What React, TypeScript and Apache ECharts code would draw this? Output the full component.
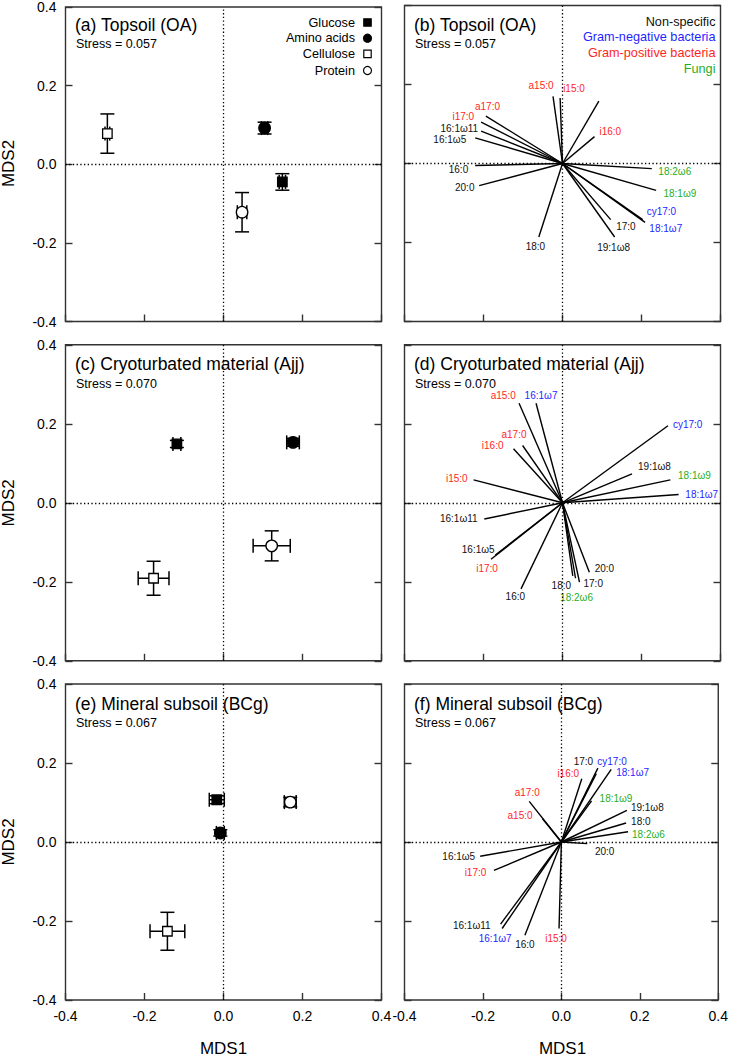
import React, { useEffect, useRef } from "react";
import * as echarts from "echarts";

const FONT = "'Liberation Sans', Arial, Helvetica, sans-serif";

// ---------- axis ticks ----------
const AXIS_TICKS = [-0.4, -0.2, 0.0, 0.2, 0.4];

// ---------- treatments (panels a, c, e) ----------
const treatments = ["Glucose", "Amino acids", "Cellulose", "Protein"];
const treatmentSymbols = ["rect", "circle", "rect", "circle"];
const treatmentFilled = [true, true, false, false];

const topsoilX = [0.149, 0.104, -0.294, 0.047];
const topsoilY = [-0.045, 0.092, 0.078, -0.122];
const topsoilXErr = [0.008, 0.008, 0.006, 0.012];
const topsoilYErr = [0.021, 0.015, 0.05, 0.05];

const cryoX = [-0.118, 0.176, -0.177, 0.122];
const cryoY = [0.149, 0.153, -0.191, -0.109];
const cryoXErr = [0.01, 0.016, 0.039, 0.047];
const cryoYErr = [0.009, 0.01, 0.043, 0.038];

const subsoilX = [-0.017, -0.008, -0.142, 0.169];
const subsoilY = [0.107, 0.023, -0.226, 0.101];
const subsoilXErr = [0.019, 0.01, 0.044, 0.015];
const subsoilYErr = [0.01, 0.008, 0.048, 0.012];

// ---------- PLFA vectors (panels b, d, f) ----------
const plfaNames = [
  "i15:0", "a15:0", "i16:0", "16:0", "16:1ω11", "16:1ω7", "16:1ω5", "i17:0", "a17:0",
  "17:0", "cy17:0", "18:0", "18:2ω6", "18:1ω9", "18:1ω7", "19:1ω8", "20:0",
];
// 0 non-specific, 1 Gram-negative, 2 Gram-positive, 3 Fungi
const plfaGroups = [2, 2, 2, 0, 0, 1, 0, 2, 2, 0, 1, 0, 3, 3, 1, 0, 0];
const groupNames = ["Non-specific", "Gram-negative bacteria", "Gram-positive bacteria", "Fungi"];
const groupColors = ["#111111", "#1f1fff", "#ff1f1f", "#1fae1f"];

const topsoilPlfaX = [-0.006, -0.024, 0.081, -0.221, -0.206, 0.092, -0.221, -0.206, -0.194, 0.122, 0.203, -0.06, 0.226, 0.237, 0.209, 0.132, -0.211];
const topsoilPlfaY = [0.166, 0.17, 0.068, -0.005, 0.082, 0.158, 0.065, 0.105, 0.12, -0.142, -0.142, -0.186, -0.013, -0.068, -0.149, -0.186, -0.056];

const cryoPlfaX = [-0.225, -0.11, -0.124, -0.105, -0.198, -0.067, -0.17, -0.181, -0.101, 0.043, 0.267, 0.026, 0.033, 0.273, 0.294, 0.176, 0.068];
const cryoPlfaY = [0.058, 0.252, 0.137, -0.218, -0.041, 0.252, -0.132, -0.143, 0.145, -0.201, 0.195, -0.185, -0.191, 0.058, 0.021, 0.073, -0.176];

const subsoilPlfaX = [-0.006, -0.048, 0.052, -0.093, -0.155, -0.151, -0.207, -0.172, -0.082, 0.093, 0.089, 0.165, 0.17, 0.077, 0.127, 0.167, 0.066];
const subsoilPlfaY = [-0.219, 0.059, 0.16, -0.236, -0.208, -0.219, -0.036, -0.072, 0.103, 0.187, 0.173, 0.048, 0.026, 0.104, 0.184, 0.08, -0.004];

// ---------- label placement (layout only): [align, dx px, dy px] or null ----------
type LP = [string, number, number] | null;
const topsoilLabelPos: LP[] = [
  ["left", 3, -9], ["center", -12, -11], ["left", 5, -5], ["right", -7, 4], ["right", -3, -3],
  null, ["right", -9, 2], ["right", -7, -6], ["center", 1.6, -10], ["left", 5.5, 6.7],
  ["left", 4, -8.3], ["center", -3.4, 9.4], ["left", 6.6, 2.7], ["left", 7.3, 3.6],
  ["left", 4.3, 6.6], ["center", -1, 11], ["right", -4.7, 2.3],
];
const cryoLabelPos: LP[] = [
  ["right", -6, -1], ["right", -3.3, -7.6], ["right", -10, -3.3], ["center", -5.7, 7.4],
  ["right", -6.7, 0], ["center", 5, -7.6], ["right", -0.7, -5.3], ["center", -4, 9.7],
  ["center", -8.6, -10.7], ["left", 4, 1], ["left", 5, -1], ["right", -1.7, 9.3],
  ["center", 1, 19], ["left", 7.7, -4.3], ["left", 6.7, 0], ["left", 6, -7.3], ["left", 5.3, -3.4],
];
const subsoilLabelPos: LP[] = [
  ["center", -3, 10], ["right", -10, -3.3], ["right", -2.7, -5], ["center", 0, 9.7],
  ["right", -10, 1.7], ["center", -7, 10], ["right", -5, 0], ["right", -7.6, 1.7],
  ["center", -2, -9.3], ["right", -4.7, -7], ["left", 1, -12.6], ["left", 5, -2],
  ["left", 4, 2.7], ["left", 8, -2.7], ["left", 5, 3], ["left", 4, -2.7], ["left", 7.7, 8.4],
];

// ---------- panels ----------
const panels: any[] = [
  { kind: "trt", row: 0, col: 0, title: "(a) Topsoil (OA)", stress: "Stress = 0.057", x: topsoilX, y: topsoilY, ex: topsoilXErr, ey: topsoilYErr, legend: true },
  { kind: "plfa", row: 0, col: 1, title: "(b) Topsoil (OA)", stress: "Stress = 0.057", x: topsoilPlfaX, y: topsoilPlfaY, lp: topsoilLabelPos, legend: true },
  { kind: "trt", row: 1, col: 0, title: "(c) Cryoturbated material (Ajj)", stress: "Stress = 0.070", x: cryoX, y: cryoY, ex: cryoXErr, ey: cryoYErr },
  { kind: "plfa", row: 1, col: 1, title: "(d) Cryoturbated material (Ajj)", stress: "Stress = 0.070", x: cryoPlfaX, y: cryoPlfaY, lp: cryoLabelPos },
  { kind: "trt", row: 2, col: 0, title: "(e) Mineral subsoil (BCg)", stress: "Stress = 0.067", x: subsoilX, y: subsoilY, ex: subsoilXErr, ey: subsoilYErr },
  { kind: "plfa", row: 2, col: 1, title: "(f) Mineral subsoil (BCg)", stress: "Stress = 0.067", x: subsoilPlfaX, y: subsoilPlfaY, lp: subsoilLabelPos },
];

const GRID_LEFTS = [65.5, 404.5];
const GRID_TOPS = [5.5, 344.8, 684];
const SIZE = 316;
const FRAME = "#333";

function fmt(v: number) {
  if (Math.abs(v) < 1e-9) return "0.0";
  return v.toFixed(1);
}

function buildOption() {
  const grids: any[] = [];
  const xAxes: any[] = [];
  const yAxes: any[] = [];
  const series: any[] = [];
  const graphics: any[] = [];
  const min = AXIS_TICKS[0];
  const max = AXIS_TICKS[AXIS_TICKS.length - 1];
  const interval = AXIS_TICKS[1] - AXIS_TICKS[0];

  const tick = { show: true, inside: true, length: 7, lineStyle: { color: FRAME, width: 1.4 } };
  const axisLine = { show: false, onZero: false };

  panels.forEach((p, i) => {
    const left = GRID_LEFTS[p.col];
    const top = GRID_TOPS[p.row];
    grids.push({
      left, top, width: SIZE, height: SIZE, show: true,
      borderColor: FRAME, borderWidth: 1.4, backgroundColor: "transparent",
    });
    const showX = p.row === 2;
    const showY = p.col === 0;
    xAxes.push({
      type: "value", gridIndex: i, min, max, interval, position: "bottom",
      axisLine, axisTick: tick, splitLine: { show: false },
      axisLabel: { show: showX, formatter: fmt, fontSize: 14, color: "#000", fontFamily: FONT, margin: 9, showMinLabel: true, showMaxLabel: true, hideOverlap: false },
    });
    yAxes.push({
      type: "value", gridIndex: i, min, max, interval, position: "left",
      axisLine, axisTick: tick, splitLine: { show: false },
      axisLabel: { show: showY, formatter: fmt, fontSize: 14, color: "#000", fontFamily: FONT, margin: 9, showMinLabel: true, showMaxLabel: true },
    });
    yAxes.push({
      type: "value", gridIndex: i, min, max, interval, position: "right",
      axisLine, axisTick: tick, splitLine: { show: false },
      axisLabel: { show: false },
    });
    const yIdx = 2 * i;

    // zero reference lines
    series.push({
      type: "scatter", xAxisIndex: i, yAxisIndex: yIdx, data: [[0, 0]], symbolSize: 0, silent: true, z: 1,
      markLine: {
        silent: true, symbol: ["none", "none"], label: { show: false },
        lineStyle: { color: "#000", width: 1.3, type: [1.3, 2.4] },
        data: [{ xAxis: 0 }, { yAxis: 0 }],
      },
    });

    if (p.kind === "trt") {
      series.push({
        type: "custom", name: "errors-" + i, xAxisIndex: i, yAxisIndex: yIdx, z: 2, silent: true,
        encode: { x: 0, y: 1 },
        data: p.x.map((v: number, k: number) => [v, p.y[k], p.ex[k], p.ey[k]]),
        renderItem: (params: any, api: any) => {
          const x = api.value(0), y = api.value(1), ex = api.value(2), ey = api.value(3);
          const c = api.coord([x, y]);
          const l = api.coord([x - ex, y]);
          const r = api.coord([x + ex, y]);
          const t = api.coord([x, y + ey]);
          const b = api.coord([x, y - ey]);
          const cap = 7;
          const style = { stroke: "#000", lineWidth: 1.5, fill: null };
          const ln = (x1: number, y1: number, x2: number, y2: number) => ({ type: "line", shape: { x1, y1, x2, y2 }, style });
          return {
            type: "group",
            children: [
              ln(l[0], c[1], r[0], c[1]),
              ln(l[0], c[1] - cap, l[0], c[1] + cap),
              ln(r[0], c[1] - cap, r[0], c[1] + cap),
              ln(c[0], t[1], c[0], b[1]),
              ln(c[0] - cap, t[1], c[0] + cap, t[1]),
              ln(c[0] - cap, b[1], c[0] + cap, b[1]),
            ],
          };
        },
      });
      series.push({
        type: "scatter", name: "points-" + i, xAxisIndex: i, yAxisIndex: yIdx, z: 3, silent: true,
        data: p.x.map((v: number, k: number) => ({
          name: treatments[k],
          value: [v, p.y[k]],
          symbol: treatmentSymbols[k],
          symbolSize: treatmentSymbols[k] === "rect" ? 9.5 : 11.5,
          itemStyle: { color: treatmentFilled[k] ? "#000" : "#fff", borderColor: "#000", borderWidth: 1.3, opacity: 1 },
        })),
      });
    } else {
      const lp: LP[] = p.lp;
      series.push({
        type: "custom", name: "vectors-" + i, xAxisIndex: i, yAxisIndex: yIdx, z: 3, silent: true,
        encode: { x: 0, y: 1 },
        data: p.x.map((v: number, k: number) => [v, p.y[k], k]),
        renderItem: (params: any, api: any) => {
          const x = api.value(0), y = api.value(1), k = api.value(2);
          const o = api.coord([0, 0]);
          const e = api.coord([x, y]);
          const children: any[] = [
            { type: "line", shape: { x1: o[0], y1: o[1], x2: e[0], y2: e[1] }, style: { stroke: "#000", lineWidth: 1.4 } },
          ];
          const pos = lp[k];
          if (pos) {
            children.push({
              type: "text",
              x: e[0] + pos[1],
              y: e[1] + pos[2],
              style: {
                text: plfaNames[k],
                fill: groupColors[plfaGroups[k]],
                fontSize: 10,
                fontFamily: FONT,
                align: pos[0],
                verticalAlign: "middle",
              },
            });
          }
          return { type: "group", children };
        },
      });
    }

    // titles
    graphics.push({
      type: "text", x: left + 9.5, y: top + 19.5, silent: true,
      style: { text: p.title, fill: "#000", font: `17.5px ${FONT}`, align: "left", verticalAlign: "middle", textAlign: "left", textVerticalAlign: "middle" },
    });
    graphics.push({
      type: "text", x: left + 10.5, y: top + 38.7, silent: true,
      style: { text: p.stress, fill: "#000", font: `12.5px ${FONT}`, align: "left", verticalAlign: "middle", textAlign: "left", textVerticalAlign: "middle" },
    });

    if (p.legend && p.kind === "trt") {
      const rows = [17, 32.7, 48.4, 65];
      treatments.forEach((name, k) => {
        const cy = top + rows[k];
        graphics.push({
          type: "text", x: left + SIZE - 26.5, y: cy, silent: true,
          style: { text: name, fill: "#000", font: `12.7px ${FONT}`, align: "right", verticalAlign: "middle", textAlign: "right", textVerticalAlign: "middle" },
        });
        const mx = left + SIZE - 14;
        const st = { fill: treatmentFilled[k] ? "#000" : "#fff", stroke: "#000", lineWidth: 1.2 };
        if (treatmentSymbols[k] === "rect") {
          graphics.push({ type: "rect", shape: { x: mx - 3.7, y: cy - 3.7, width: 7.4, height: 7.4 }, style: st, silent: true });
        } else {
          graphics.push({ type: "circle", shape: { cx: mx, cy, r: 4 }, style: st, silent: true });
        }
      });
    }
    if (p.legend && p.kind === "plfa") {
      const rows = [16, 31.6, 47, 63.3];
      groupNames.forEach((name, k) => {
        graphics.push({
          type: "text", x: left + SIZE - 5, y: top + rows[k], silent: true,
          style: { text: name, fill: groupColors[k], font: `12.7px ${FONT}`, align: "right", verticalAlign: "middle", textAlign: "right", textVerticalAlign: "middle" },
        });
      });
    }

    // axis names
    if (p.col === 0) {
      graphics.push({
        type: "text", x: 8.5, y: top + SIZE / 2, rotation: Math.PI / 2, silent: true,
        style: { text: "MDS2", fill: "#000", font: `17px ${FONT}`, align: "center", verticalAlign: "middle", textAlign: "center", textVerticalAlign: "middle" },
      });
    }
    if (p.row === 2) {
      graphics.push({
        type: "text", x: left + SIZE / 2, y: 1048, silent: true,
        style: { text: "MDS1", fill: "#000", font: `17px ${FONT}`, align: "center", verticalAlign: "middle", textAlign: "center", textVerticalAlign: "middle" },
      });
    }
  });

  return {
    animation: false,
    backgroundColor: "#fff",
    textStyle: { fontFamily: FONT },
    grid: grids,
    xAxis: xAxes,
    yAxis: yAxes,
    series,
    graphic: graphics,
  };
}

export default function App() {
  const ref = useRef<HTMLDivElement>(null);
  useEffect(() => {
    if (!ref.current) return;
    const chart = echarts.init(ref.current, null, { renderer: "svg" });
    chart.setOption(buildOption() as any);
    return () => chart.dispose();
  }, []);
  return (
    <div
      ref={ref}
      style={{ position: "absolute", left: 0, top: 0, width: 731, height: 1056, background: "#fff" }}
    />
  );
}
